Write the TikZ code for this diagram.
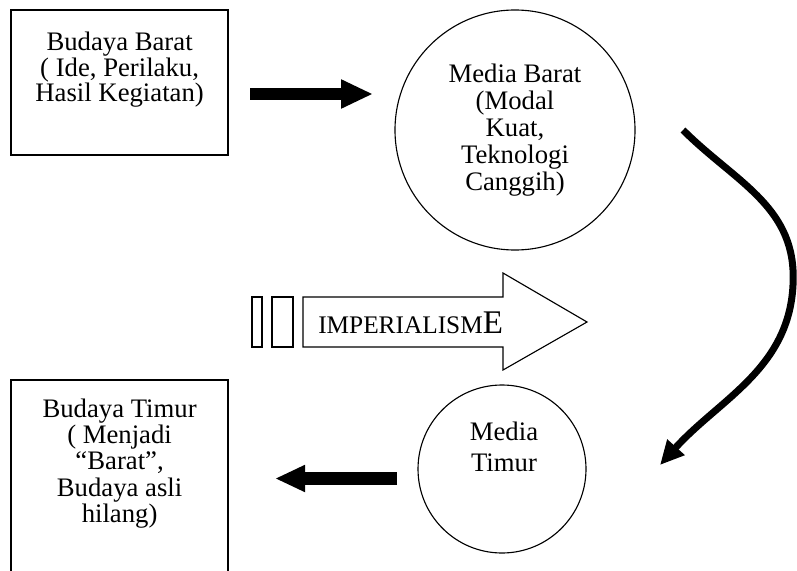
\documentclass[tikz,border=0pt]{standalone}
\usepackage{fontspec}
\setmainfont{Liberation Serif}
\usetikzlibrary{arrows.meta}

\begin{document}
\begin{tikzpicture}
	\tikzstyle{every node}=[font=\fontsize{19}{19.1}\selectfont, align=center]
	\tikzstyle{kotak}=[draw, line width=0.8pt, minimum width=5.425cm, inner sep=0pt]
	\tikzstyle{bulat}=[draw, circle, line width=0.8pt, inner sep=0pt]

	\useasboundingbox (0,0) rectangle (19.925,14.25);
	\clip (0,0) rectangle (19.925,14.25);

	% kotak budaya
	\node [kotak, minimum height=3.625cm] (bbarat) at (2.9875,12.1875) {};
	\node [font=\fontsize{19}{17}\selectfont] (bbaratteks) at (2.99,12.51) {Budaya Barat\\( Ide, Perilaku,\\Hasil Kegiatan)};
	\node [kotak, minimum height=5.5cm] (btimur) at (2.9875,2) {};
	\node [font=\fontsize{19}{18.8}\selectfont] (btimurteks) at (2.99,2.66) {Budaya Timur\\( Menjadi\\``Barat'',\\Budaya asli\\hilang)};

	% media
	\node [bulat, minimum size=6cm] (mbarat) at (12.875,11) {Media Barat\\(Modal\\Kuat,\\Teknologi\\Canggih)};
	\node [bulat, minimum size=4.2cm] (mtimur) at (12.55,2.525) {};
	\node [font=\fontsize{19}{22}\selectfont] (mtimurteks) at (12.6,3.075) {Media\\Timur};

	% imperialisme
	\draw [line width=0.8pt] (6.3,5.575) rectangle (6.55,6.825);
	\draw [line width=0.8pt] (6.8,5.575) rectangle (7.325,6.825);
	\draw [line width=0.8pt] (7.575,6.825) -- (12.575,6.825) -- (12.575,7.425) -- (14.675,6.2)
		-- (12.575,5.0) -- (12.575,5.575) -- (7.575,5.575) -- cycle;
	\node [anchor=base west, inner sep=0pt] (imp) at (7.95,5.925) {\fontsize{18}{18}\selectfont IMPERIALISM\fontsize{23.5}{23.5}\selectfont E};

	% panah
	\coordinate (p1a) at (6.25,11.9);
	\coordinate (p1b) at (9.325,11.9);
	\draw [-{Triangle[length=0.8cm, width=0.675cm]}, line width=0.28cm] (p1a) -- (p1b);

	\coordinate (p2a) at (9.925,2.2875);
	\coordinate (p2b) at (6.875,2.2875);
	\draw [-{Triangle[length=0.75cm, width=0.625cm]}, line width=0.325cm] (p2a) -- (p2b);

	\coordinate (p3a) at (17.075,11.0);
	\coordinate (lengkung) at (19.83,7.325);
	\coordinate (p3b) at (16.5,2.625);
	\draw [-{Triangle[length=0.6cm, width=0.55cm]}, line width=0.175cm]
		(p3a) to[out=-45, in=90] (lengkung) to[out=-90, in=48] (p3b);

\end{tikzpicture}
\end{document}
